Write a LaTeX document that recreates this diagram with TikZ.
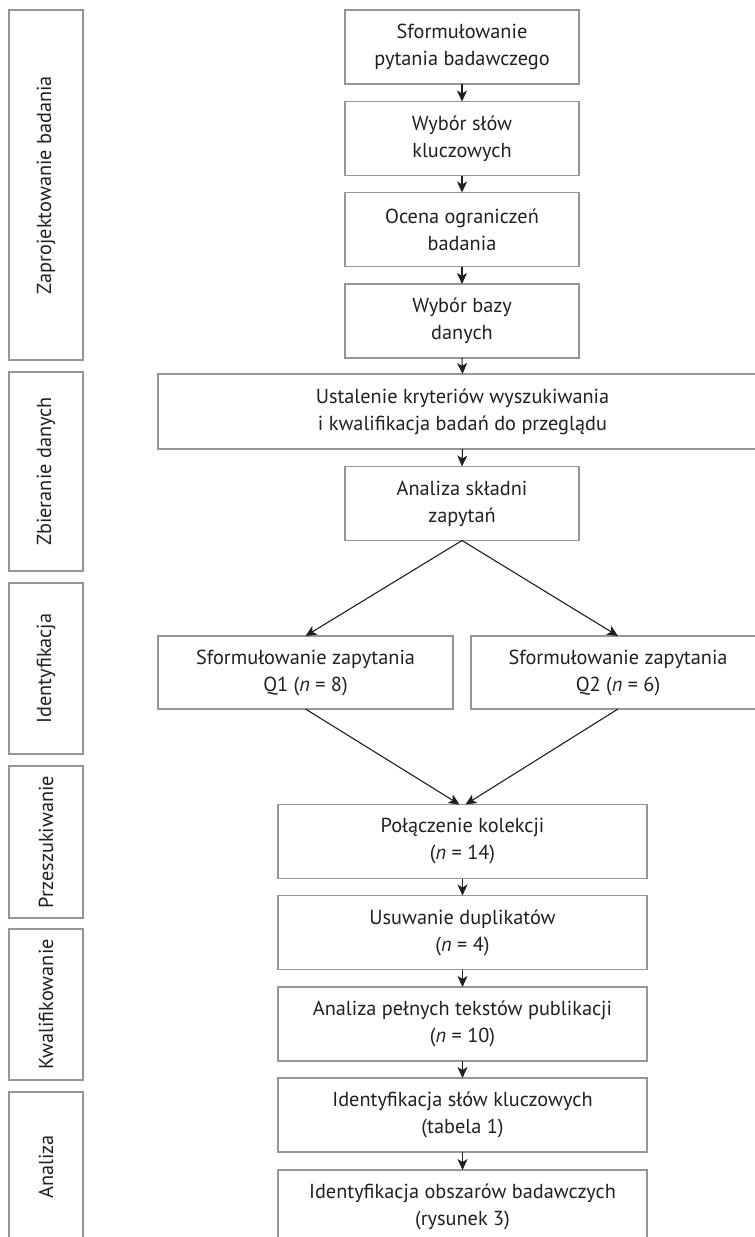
\documentclass[tikz,border=0pt]{standalone}
\usepackage{fontspec}
\setmainfont{PT Sans}
\usetikzlibrary{arrows.meta}
\definecolor{boxgray}{RGB}{150,150,150}
\definecolor{txt}{RGB}{35,31,32}
\begin{document}
\begin{tikzpicture}[x=1pt,y=-1pt,
  box/.style={draw=boxgray, line width=1.5pt, rectangle, inner sep=0pt, outer sep=0pt,
    align=center, text=txt, font=\fontsize{20.3}{27}\selectfont},
  stage/.style={box, rotate=90, minimum height=74pt},
  mainbox/.style={box, minimum width=234pt, minimum height=74pt},
  lowbox/.style={box, minimum width=369pt, minimum height=74pt},
  arr/.style={-{Stealth[length=11pt,width=10pt,inset=3pt]}, line width=1.1pt, draw=txt}]
\useasboundingbox (0,0) rectangle (755,1237);
% stage boxes (left)
\node[stage, minimum width=350pt] (s1) at (46,185) {Zaprojektowanie badania};
\node[stage, minimum width=199pt] (s2) at (46,471.5) {Zbieranie danych};
\node[stage, minimum width=171pt] (s3) at (46,668.5) {Identyfikacja};
\node[stage, minimum width=152pt] (s4) at (46,842) {Przeszukiwanie};
\node[stage, minimum width=151pt] (s5) at (46,1004.5) {Kwalifikowanie};
\node[stage, minimum width=150pt] (s6) at (46,1167) {Analiza};
% main column
\node[mainbox] (b1) at (462,47) {Sformułowanie\\pytania badawczego};
\node[mainbox] (b2) at (462,138.5) {Wybór słów\\kluczowych};
\node[mainbox] (b3) at (462,229.5) {Ocena ograniczeń\\badania};
\node[mainbox] (b4) at (462,321) {Wybór bazy\\danych};
\node[box, minimum width=609pt, minimum height=75pt] (b5) at (462.5,411.5) {Ustalenie kryteriów wyszukiwania\\i kwalifikacja badań do przeglądu};
\node[mainbox] (b6) at (462,503.5) {Analiza składni\\zapytań};
\node[box, minimum width=295pt, minimum height=73pt] (q1) at (305.5,672.5) {Sformułowanie zapytania\\Q1 (\textit{n} = 8)};
\node[box, minimum width=294pt, minimum height=73pt] (q2) at (618,672.5) {Sformułowanie zapytania\\Q2 (\textit{n} = 6)};
\node[lowbox] (c1) at (462.5,841.5) {Połączenie kolekcji\\(\textit{n} = 14)};
\node[lowbox] (c2) at (462.5,932.5) {Usuwanie duplikatów\\(\textit{n} = 4)};
\node[lowbox] (c3) at (462.5,1024) {Analiza pełnych tekstów publikacji\\(\textit{n} = 10)};
\node[lowbox] (c4) at (462.5,1115) {Identyfikacja słów kluczowych\\(tabela 1)};
\node[lowbox] (c5) at (462.5,1207) {Identyfikacja obszarów badawczych\\(rysunek 3)};
% connectors
\draw[arr] (b1.south) -- (b2.north);
\draw[arr] (b2.south) -- (b3.north);
\draw[arr] (b3.south) -- (b4.north);
\draw[arr] (b4.south) -- (b5.north);
\draw[arr] (b5.south) -- (b6.north);
\draw[arr] (b6.south) -- (q1.north);
\draw[arr] (b6.south) -- (q2.north);
\draw[arr] (q1.south) -- ([xshift=-3pt]c1.north);
\draw[arr] (q2.south) -- ([xshift=3pt]c1.north);
\draw[arr] (c1.south) -- (c2.north);
\draw[arr] (c2.south) -- (c3.north);
\draw[arr] (c3.south) -- (c4.north);
\draw[arr] (c4.south) -- (c5.north);
\end{tikzpicture}
\end{document}
